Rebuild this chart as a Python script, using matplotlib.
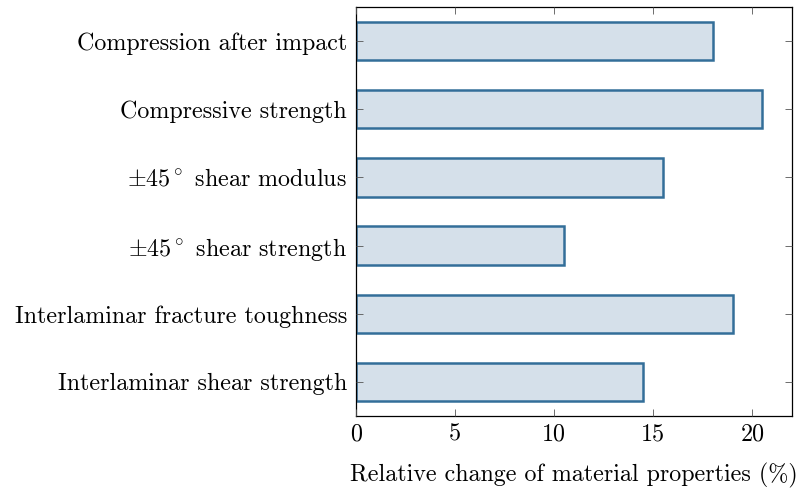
import matplotlib
matplotlib.use("Agg")
import matplotlib.pyplot as plt

categories = [
    "Compression after impact",
    "Compressive strength",
    r"$\pm45^\circ$ shear modulus",
    r"$\pm45^\circ$ shear strength",
    "Interlaminar fracture toughness",
    "Interlaminar shear strength",
]
values = [18.0, 20.5, 15.5, 10.5, 19.0, 14.5]
xticks = [0, 5, 10, 15, 20]

plt.rcParams["font.family"] = ["cmr10"]
plt.rcParams["mathtext.fontset"] = "cm"
plt.rcParams["axes.formatter.use_mathtext"] = True

fig = plt.figure(figsize=(8.05, 4.88), dpi=100)
ax = fig.add_axes([356/805, 1-416/488, (792-356)/805, (416-7)/488])

pos = list(range(len(categories)))
ax.barh(pos, values, height=0.56, color="#d5e0ea", edgecolor="#336e99", linewidth=1.8, zorder=1)
ax.set_axisbelow(False)
ax.set_yticks(pos)
ax.set_yticklabels(categories)
ax.set_ylim(len(categories)-0.5, -0.5)
ax.set_xlim(0, 22)
ax.set_xticks(xticks)
ax.set_xticklabels([str(t) for t in xticks])
ax.tick_params(direction="in", top=True, right=True, length=5, width=0.6, color="#555555", labelsize=17.3, pad=5)
ax.tick_params(axis="y", pad=6.5)
for s in ax.spines.values():
    s.set_linewidth(0.9)
ax.set_xlabel("Relative change of material properties (%)", fontsize=17.3, labelpad=13)

fig.savefig("out.png", dpi=100)
